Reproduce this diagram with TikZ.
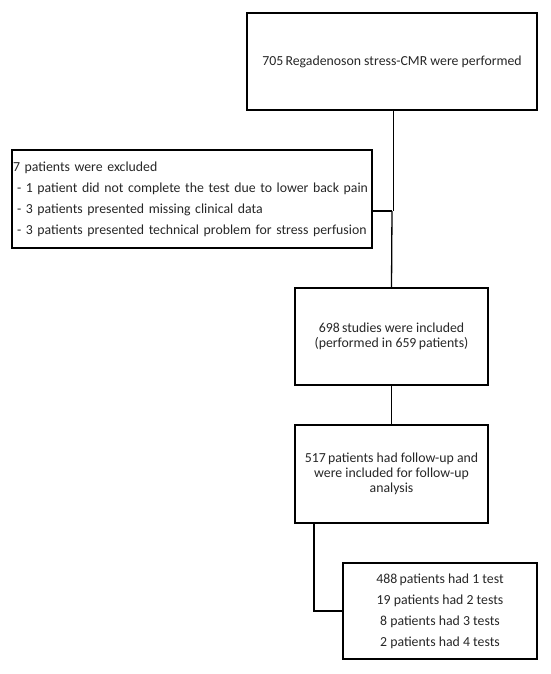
\documentclass[tikz,border=0pt]{standalone}
\usepackage{fontspec}
\setmainfont{Carlito}
\begin{document}
\begin{tikzpicture}[x=1pt,y=-1pt,
  box/.style={draw, line width=1.3pt, inner sep=0pt, align=center, text=black!85,
    font=\fontsize{13.8}{15.2}\selectfont},
  listbox/.style={box, font=\fontsize{13.8}{21}\selectfont},
  conn/.style={line width=1.3pt}]
\useasboundingbox (0,0) rectangle (550,674);
\node[box, minimum width=290pt, minimum height=97pt] (b1) at (392,61.5) {705\,Regadenoson stress-CMR were performed};
\node[listbox, minimum width=360pt, minimum height=98pt, align=left, text width=358pt, inner xsep=1pt] (ex) at (192,199)
 {7 patients were excluded\\
  \hspace*{4pt}- 1 patient did not complete the test due to lower back pain\\
  \hspace*{4pt}- 3 patients presented missing clinical data\\
  \hspace*{4pt}- 3 patients presented technical problem for stress perfusion};
\node[box, minimum width=193pt, minimum height=97pt] (b3) at (391.5,336.5) {698\,studies were included\\(performed in 659\,patients)};
\node[box, minimum width=193pt, minimum height=98pt] (b4) at (391.5,474) {517\,patients had follow-up and\\were included for follow-up\\analysis};
\node[listbox, minimum width=194pt, minimum height=96pt] (b5) at (440,611) {488\,patients had 1 test\\19 patients had 2 tests\\8 patients had 3 tests\\2 patients had 4 tests};
\coordinate (j) at (392,211);
\coordinate (k) at (314,612);
\draw[line width=0.7pt, double, double distance=1.6pt] (b1.south) -- (j);
\draw[conn] (ex.east |- j) -- (j);
\draw[conn] (j) -- (b3.north);
\draw[conn] (b3.south) -- (b4.north);
\draw[conn] (b4.south -| k) |- (b5.west);
\end{tikzpicture}
\end{document}
